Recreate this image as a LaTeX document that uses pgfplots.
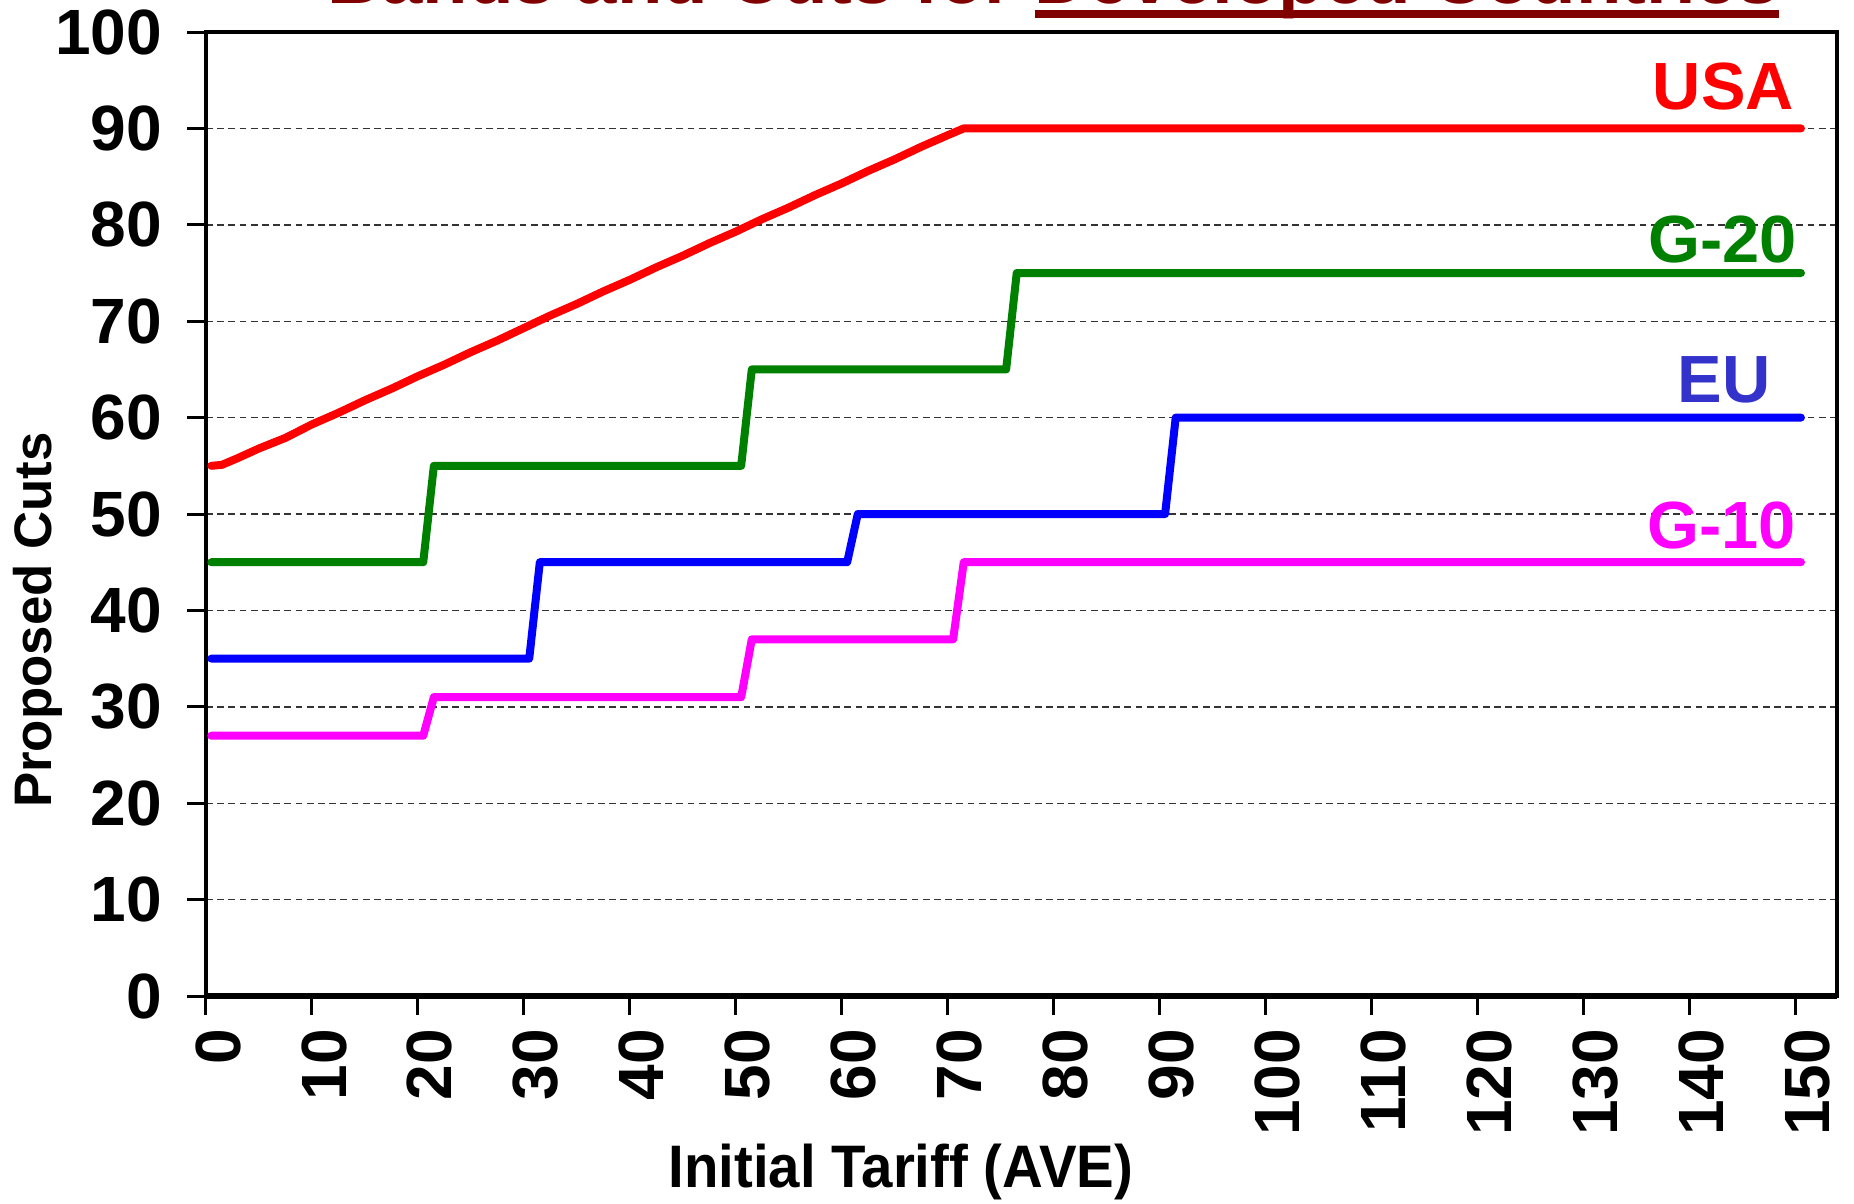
\documentclass[border=0pt]{standalone}
\usepackage{fontspec}
\setmainfont{Liberation Sans}
\usepackage{graphicx}
\usepackage{pgfplots}
\pgfplotsset{compat=1.18}

\definecolor{usared}{HTML}{FF0000}
\definecolor{g20green}{HTML}{008000}
\definecolor{eublue}{HTML}{0000FF}
\definecolor{eutext}{HTML}{3333CC}
\definecolor{g10mag}{HTML}{FF00FF}
\definecolor{titlered}{HTML}{800000}

\newcommand{\thickul}[1]{\setbox0\hbox{#1}\rlap{\color{titlered}\rule[-3.5pt]{\wd0}{1.9pt}}\box0}

\begin{document}
\begin{tikzpicture}
\begin{axis}[
  name=ax,
  scale only axis,
  width=407.75pt, height=241pt,
  xmin=0, xmax=153.9, ymin=0, ymax=100,
  xtick={0,10,...,150}, ytick={0,10,...,100},
  tick align=outside,
  major tick length=4.75pt,
  tick style={black, line width=0.75pt},
  xtick pos=bottom, ytick pos=left,
  ymajorgrids,
  grid style={black!80, line width=0.35pt, dash pattern=on 1.7pt off 1.1pt},
  axis line style={black, line width=0.8pt},
  ticklabel style={font=\fontsize{16}{16}\selectfont\bfseries},
  /pgf/number format/assume math mode=true,
  xticklabel style={rotate=90, anchor=east, yshift=-3pt},
  yticklabel style={xshift=-2.7pt},
  xlabel={\scalebox{0.94}[1]{Initial Tariff (AVE)}},
  ylabel={Proposed Cuts},
  xlabel style={at={(rel axis cs:0.426,-0.1826)}, anchor=center, font=\fontsize{15}{15}\selectfont\bfseries},
  ylabel style={at={(rel axis cs:-0.103,0.39)}, anchor=center, rotate=0, font=\fontsize{13.2}{13.2}\selectfont\bfseries},
  clip=false,
]
% USA
\addplot[usared, line width=2pt, line cap=round, line join=round] coordinates {
 (0.5,55) (1.5,55.1) (3,55.8) (5,56.8) (7.5,57.9) (10,59.3) (12.5,60.5) (15,61.8) (17.5,63) (20,64.3)
 (22.5,65.5) (25,66.8) (27.5,68) (30,69.3) (32.5,70.6) (35,71.8) (37.5,73.1) (40,74.3)
 (42.5,75.6) (45,76.8) (47.5,78.1) (50,79.3) (52.5,80.6) (55,81.8) (57.5,83.1) (60,84.3)
 (62.5,85.6) (65,86.8) (67.5,88.1) (70,89.3) (71.5,90) (150.5,90)
};
% G-20
\addplot[g20green, line width=2pt, line cap=round, line join=round] coordinates {
 (0.5,45) (20.5,45) (21.5,55) (50.5,55) (51.5,65) (75.5,65) (76.5,75) (150.5,75)
};
% EU
\addplot[eublue, line width=2pt, line cap=round, line join=round] coordinates {
 (0.5,35) (30.5,35) (31.5,45) (60.5,45) (61.5,50) (90.5,50) (91.5,60) (150.5,60)
};
% G-10
\addplot[g10mag, line width=2pt, line cap=round, line join=round] coordinates {
 (0.5,27) (20.5,27) (21.5,31) (50.5,31) (51.5,37) (70.5,37) (71.5,45) (150.5,45)
};
\draw[black, line width=1.5pt] (rel axis cs:0,0) -- (rel axis cs:1,0);

\node[anchor=east, inner sep=0pt, text=usared, font=\fontsize{16.7}{17}\selectfont\bfseries] at (axis cs:149.9,94.3) {USA};
\node[anchor=east, inner sep=0pt, text=g20green, font=\fontsize{16.7}{17}\selectfont\bfseries] at (axis cs:150.2,78.5) {G-20};
\node[anchor=east, inner sep=0pt, text=eutext, font=\fontsize{16.7}{17}\selectfont\bfseries] at (axis cs:147.7,63.9) {EU};
\node[anchor=east, inner sep=0pt, text=g10mag, font=\fontsize{16.7}{17}\selectfont\bfseries] at (axis cs:150.1,48.8) {G-10};

\node[anchor=base west, inner sep=0pt, text=titlered, font=\fontsize{18.6}{19}\selectfont\bfseries] at ([yshift=7.1pt]rel axis cs:0.0742,1) {Bands and Cuts for \thickul{Developed Countries}};
\end{axis}
\pgfresetboundingbox
\path[use as bounding box] ([xshift=-51.5pt,yshift=-51.75pt]ax.south west) rectangle ([xshift=4.25pt,yshift=8pt]ax.north east);
\end{tikzpicture}
\end{document}
